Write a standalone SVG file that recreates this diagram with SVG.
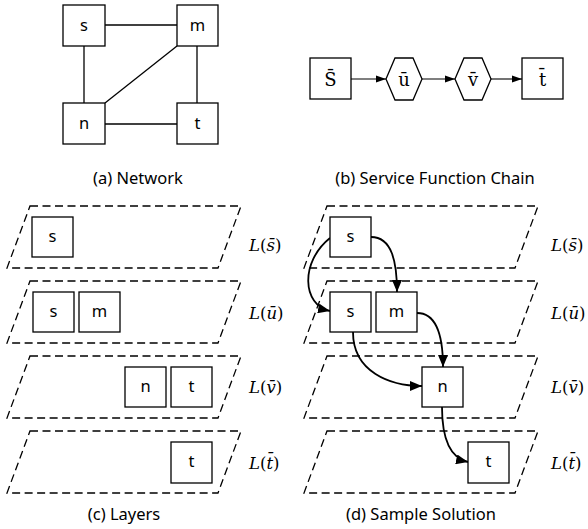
<svg xmlns="http://www.w3.org/2000/svg" width="588" height="529" viewBox="0 0 588 529">
<style>
.node rect{fill:#fff;stroke:#000;stroke-width:1.3}
.node polygon{fill:#fff;stroke:#000;stroke-width:1.3}
.lbl{font-family:"Noto Sans","Open Sans",sans-serif;font-size:16.5px;text-anchor:middle;fill:#000}
.mlbl{font-family:"DejaVu Serif","Liberation Serif",serif;font-size:18px;text-anchor:middle;fill:#000}
.cap{font-family:"Noto Sans","Open Sans",sans-serif;font-size:16.5px;text-anchor:middle;fill:#000}
.lay{font-family:"DejaVu Serif","Liberation Serif",serif;font-size:16.5px;fill:#000}
.it{font-style:italic}
.edge{stroke:#000;stroke-width:1.3;fill:none}
.arr{stroke:#000;stroke-width:1.1;fill:none;marker-end:url(#sm)}
.flow{stroke:#000;stroke-width:1.8;fill:none;marker-end:url(#big)}
.layer{fill:none;stroke:#000;stroke-width:1.3;stroke-dasharray:8 4.5}
</style>
<defs>
<marker id="sm" markerWidth="10" markerHeight="8" refX="10" refY="4" orient="auto" markerUnits="userSpaceOnUse"><path d="M0,0.5 L10,4 L0,7.5 Z" fill="#000"/></marker>
<marker id="big" markerWidth="12" markerHeight="10" refX="12" refY="5" orient="auto" markerUnits="userSpaceOnUse"><path d="M0,0 L12,5 L0,10 Z" fill="#000"/></marker>
</defs>

<!-- (a) Network -->
<g id="net-edges">
<line class="edge" x1="105" y1="25" x2="177" y2="25"/>
<line class="edge" x1="84" y1="46" x2="84" y2="103"/>
<line class="edge" x1="197" y1="46" x2="197" y2="103"/>
<line class="edge" x1="105" y1="124" x2="177" y2="124"/>
<line class="edge" x1="177" y1="46" x2="105" y2="103"/>
</g>
<g id="a-s" class="node"><rect x="63" y="5" width="42" height="41"/><text class="lbl" x="84" y="31">s</text></g>
<g id="a-m" class="node"><rect x="177" y="5" width="41" height="41"/><text class="lbl" x="197.5" y="31">m</text></g>
<g id="a-n" class="node"><rect x="63" y="103" width="42" height="41"/><text class="lbl" x="84" y="129">n</text></g>
<g id="a-t" class="node"><rect x="177" y="103" width="41" height="41"/><text class="lbl" x="197.5" y="129">t</text></g>
<text class="cap" x="138" y="184">(a) Network</text>

<!-- (b) Service Function Chain -->
<g id="chain-edges">
<line class="arr" x1="351" y1="79" x2="386" y2="79"/>
<line class="arr" x1="422" y1="79" x2="455" y2="79"/>
<line class="arr" x1="491" y1="79" x2="522" y2="79"/>
</g>
<g id="b-s" class="node"><rect x="310" y="58" width="41" height="41"/><text class="mlbl" x="330.5" y="86">S̄</text></g>
<g id="b-u" class="node"><polygon points="386,79 395,58 413,58 422,79 413,100 395,100"/><text class="mlbl" x="404" y="86">ū</text></g>
<g id="b-v" class="node"><polygon points="455,79 464,58 482,58 491,79 482,100 464,100"/><text class="mlbl" x="473" y="86">v̄</text></g>
<g id="b-t" class="node"><rect x="522" y="58" width="41" height="41"/><text class="mlbl" x="542.5" y="86">t̄</text></g>
<text class="cap" x="435" y="184">(b) Service Function Chain</text>

<!-- (c) Layers -->
<g id="c-layers">
<polygon class="layer" points="30,206 241,206 218,268 7,268"/>
<polygon class="layer" points="30,281 241,281 218,343 7,343"/>
<polygon class="layer" points="30,356 241,356 218,418 7,418"/>
<polygon class="layer" points="30,431 241,431 218,493 7,493"/>
</g>
<g id="c-s1" class="node"><rect x="32" y="217" width="41" height="40"/><text class="lbl" x="52.5" y="242">s</text></g>
<g id="c-s2" class="node"><rect x="33" y="292" width="41" height="40"/><text class="lbl" x="53.5" y="317">s</text></g>
<g id="c-m2" class="node"><rect x="79" y="292" width="41" height="40"/><text class="lbl" x="99.5" y="317">m</text></g>
<g id="c-n3" class="node"><rect x="125" y="367" width="41" height="40"/><text class="lbl" x="145.5" y="392">n</text></g>
<g id="c-t3" class="node"><rect x="171" y="367" width="41" height="40"/><text class="lbl" x="191.5" y="392">t</text></g>
<g id="c-t4" class="node"><rect x="171" y="442" width="41" height="41"/><text class="lbl" x="191.5" y="467">t</text></g>
<text class="lay" x="249" y="251"><tspan class="it">L</tspan>(<tspan class="it">s̄</tspan>)</text>
<text class="lay" x="249" y="319"><tspan class="it">L</tspan>(<tspan class="it">ū</tspan>)</text>
<text class="lay" x="249" y="393"><tspan class="it">L</tspan>(<tspan class="it">v̄</tspan>)</text>
<text class="lay" x="249" y="469"><tspan class="it">L</tspan>(<tspan class="it">t̄</tspan>)</text>
<text class="cap" x="124" y="520">(c) Layers</text>

<!-- (d) Sample Solution -->
<g id="d-layers">
<polygon class="layer" points="327,206 538,206 515,268 304,268"/>
<polygon class="layer" points="327,281 538,281 515,343 304,343"/>
<polygon class="layer" points="327,356 538,356 515,418 304,418"/>
<polygon class="layer" points="327,431 538,431 515,493 304,493"/>
</g>
<g id="d-flows">
<path class="flow" d="M371,237 C392,237 397,262 397,292"/>
<path class="flow" d="M330,238 C300,262 302,305 330,311"/>
<path class="flow" d="M353,332 C353,372 390,386 422,386"/>
<path class="flow" d="M417,313 C436,313 443,335 443,367"/>
<path class="flow" d="M442,407 C442,438 450,458 468,462"/>
</g>
<g id="d-s1" class="node"><rect x="330" y="217" width="41" height="40"/><text class="lbl" x="350.5" y="242">s</text></g>
<g id="d-s2" class="node"><rect x="330" y="292" width="41" height="40"/><text class="lbl" x="350.5" y="317">s</text></g>
<g id="d-m2" class="node"><rect x="376" y="292" width="41" height="40"/><text class="lbl" x="396.5" y="317">m</text></g>
<g id="d-n3" class="node"><rect x="422" y="367" width="41" height="40"/><text class="lbl" x="442.5" y="392">n</text></g>
<g id="d-t4" class="node"><rect x="468" y="442" width="41" height="41"/><text class="lbl" x="488.5" y="467">t</text></g>
<text class="lay" x="551" y="251"><tspan class="it">L</tspan>(<tspan class="it">s̄</tspan>)</text>
<text class="lay" x="551" y="319"><tspan class="it">L</tspan>(<tspan class="it">ū</tspan>)</text>
<text class="lay" x="551" y="393"><tspan class="it">L</tspan>(<tspan class="it">v̄</tspan>)</text>
<text class="lay" x="551" y="469"><tspan class="it">L</tspan>(<tspan class="it">t̄</tspan>)</text>
<text class="cap" x="421" y="520">(d) Sample Solution</text>
</svg>
